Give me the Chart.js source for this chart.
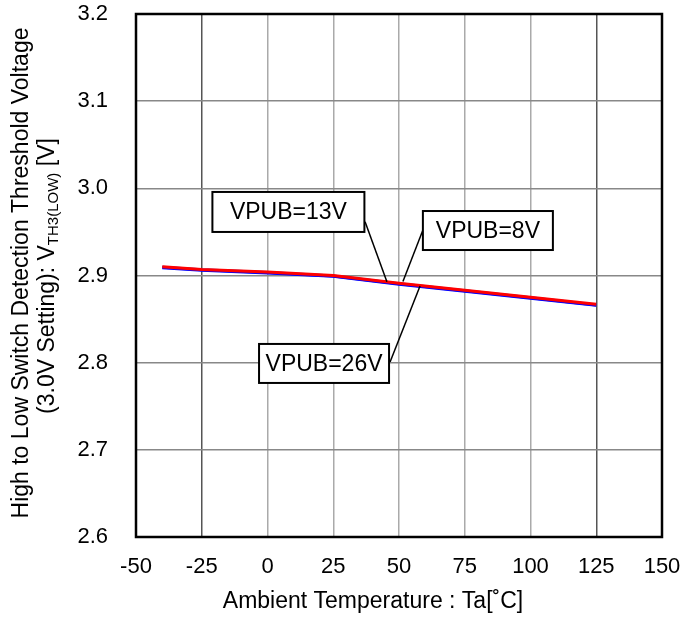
<!DOCTYPE html>
<html>
<head>
<meta charset="utf-8">
<script src="https://cdn.jsdelivr.net/npm/chart.js@4"></script>
<style>
html, body { margin: 0; padding: 0; background: #fff; }
#wrap { width: 684px; height: 619px; position: relative; }
</style>
</head>
<body>
<div id="wrap"><canvas id="vthChart"></canvas></div>
<script>
// dados
const temps = [-40, -25, 0, 25, 50, 75, 100, 125];
const vpub26 = [2.910, 2.907, 2.904, 2.900, 2.891, 2.883, 2.875, 2.867];
const vpub13 = [2.909, 2.906, 2.903, 2.899, 2.890, 2.882, 2.874, 2.866];
const vpub8  = [2.9095, 2.9065, 2.9035, 2.8995, 2.8905, 2.8825, 2.8745, 2.8662];
const xTicks = [-50, -25, 0, 25, 50, 75, 100, 125, 150];
const yTicks = [2.6, 2.7, 2.8, 2.9, 3.0, 3.1, 3.2];

const FONT = "'Liberation Sans', Arial, sans-serif";

// caixas de legenda com linha de chamada (em unidades do gráfico)
const callouts = [
    { text: 'VPUB=13V', center: [7.95, 2.9729], w: 152, h: 40, from: [37.1, 2.9618], to: [45.4, 2.8928] },
    { text: 'VPUB=8V',  center: [83.8, 2.9516], w: 130, h: 39, from: [59.1, 2.9522], to: [51.5, 2.8930] },
    { text: 'VPUB=26V', center: [21.5, 2.7991], w: 130, h: 39, from: [46.6, 2.8008], to: [58.0, 2.8880] }
];

function toPoints(ys) {
    return temps.map((t, i) => ({ x: t, y: ys[i] }));
}

const decorPlugin = {
    id: 'decor',
    afterDraw(chart) {
        const { ctx, chartArea: a, scales: { x, y } } = chart;
        ctx.save();

        // moldura
        ctx.strokeStyle = '#000';
        ctx.lineWidth = 2.5;
        ctx.strokeRect(a.left, a.top, a.right - a.left, a.bottom - a.top);

        // chamadas
        callouts.forEach(c => {
            ctx.strokeStyle = '#000';
            ctx.lineWidth = 1.5;
            ctx.beginPath();
            ctx.moveTo(x.getPixelForValue(c.from[0]), y.getPixelForValue(c.from[1]));
            ctx.lineTo(x.getPixelForValue(c.to[0]), y.getPixelForValue(c.to[1]));
            ctx.stroke();

            const cx = x.getPixelForValue(c.center[0]);
            const cy = y.getPixelForValue(c.center[1]);
            ctx.fillStyle = '#fff';
            ctx.fillRect(cx - c.w / 2, cy - c.h / 2, c.w, c.h);
            ctx.lineWidth = 2;
            ctx.strokeRect(cx - c.w / 2, cy - c.h / 2, c.w, c.h);
            ctx.fillStyle = '#000';
            ctx.font = '23px ' + FONT;
            ctx.textAlign = 'center';
            ctx.textBaseline = 'middle';
            ctx.fillText(c.text, cx, cy + 1);
        });

        // título do eixo X
        ctx.fillStyle = '#000';
        ctx.font = '23px ' + FONT;
        ctx.textAlign = 'center';
        ctx.textBaseline = 'alphabetic';
        ctx.fillText('Ambient Temperature : Ta[˚C]', (a.left + a.right) / 2 - 26, 608);

        // título do eixo Y (duas linhas, com subscrito)
        ctx.save();
        ctx.translate(28, 273);
        ctx.rotate(-Math.PI / 2);
        ctx.textAlign = 'center';
        ctx.textBaseline = 'alphabetic';
        ctx.font = '23px ' + FONT;
        ctx.fillText('High to Low Switch Detection Threshold Voltage', 0, 0);
        ctx.restore();

        ctx.save();
        ctx.translate(54, 276);
        ctx.rotate(-Math.PI / 2);
        ctx.textAlign = 'left';
        ctx.textBaseline = 'alphabetic';
        const parts = [
            { t: '(3.0V Setting): V', f: '23px ' + FONT, dy: 0 },
            { t: 'TH3(LOW)', f: '15px ' + FONT, dy: 4 },
            { t: ' [V]', f: '23px ' + FONT, dy: 0 }
        ];
        let total = 0;
        parts.forEach(p => { ctx.font = p.f; total += ctx.measureText(p.t).width; });
        let px = -total / 2;
        parts.forEach(p => {
            ctx.font = p.f;
            ctx.fillText(p.t, px, p.dy);
            px += ctx.measureText(p.t).width;
        });
        ctx.restore();

        ctx.restore();
    }
};

const ctx = document.getElementById('vthChart').getContext('2d');
new Chart(ctx, {
    type: 'line',
    data: {
        datasets: [
            { label: 'VPUB=26V', data: toPoints(vpub26), borderColor: '#ff0000', borderWidth: 3, pointRadius: 0, tension: 0 },
            { label: 'VPUB=13V', data: toPoints(vpub13), borderColor: '#0000ff', borderWidth: 3, pointRadius: 0, tension: 0 },
            { label: 'VPUB=8V',  data: toPoints(vpub8),  borderColor: '#3030c0', borderWidth: 3, pointRadius: 0, tension: 0 }
        ]
    },
    options: {
        responsive: true,
        maintainAspectRatio: false,
        animation: false,
        events: [],
        layout: { padding: { top: 14, right: 22, left: 0, bottom: 0 } },
        plugins: {
            legend: { display: false },
            tooltip: { enabled: false }
        },
        scales: {
            x: {
                type: 'linear',
                min: xTicks[0],
                max: xTicks[xTicks.length - 1],
                afterBuildTicks: s => { s.ticks = xTicks.map(v => ({ value: v })); },
                afterFit: s => { s.height = 82; s.paddingLeft = 0; s.paddingRight = 0; },
                border: { display: false },
                grid: {
                    drawTicks: false,
                    color: c => (c.tick && (c.tick.value === -25 || c.tick.value === 125)) ? '#555' : '#aaa',
                    lineWidth: 1.5
                },
                ticks: { color: '#000', font: { family: FONT, size: 22 }, padding: 17, maxRotation: 0 }
            },
            y: {
                min: yTicks[0],
                max: yTicks[yTicks.length - 1],
                afterBuildTicks: s => { s.ticks = yTicks.map(v => ({ value: v })); },
                afterFit: s => { s.width = 136; s.paddingTop = 0; s.paddingBottom = 0; },
                border: { display: false },
                grid: { drawTicks: false, color: '#888', lineWidth: 1.5 },
                ticks: {
                    color: '#000',
                    font: { family: FONT, size: 22 },
                    padding: 28,
                    callback: v => Number(v).toFixed(1)
                }
            }
        }
    },
    plugins: [decorPlugin]
});
</script>
</body>
</html>
